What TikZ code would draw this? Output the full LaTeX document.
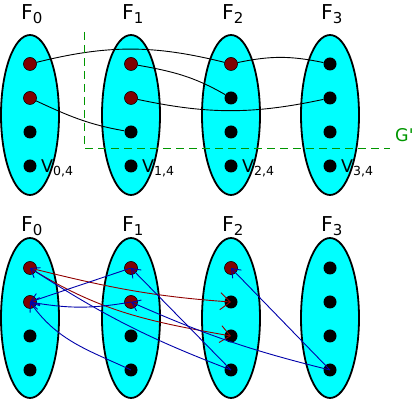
\documentclass[tikz,border=0pt]{standalone}
\usepackage{fontspec}
\setmainfont{DejaVu Sans}
\usetikzlibrary{shapes.geometric,arrows.meta}
\definecolor{setcyan}{RGB}{0,255,255}
\definecolor{dotred}{RGB}{128,0,0}
\definecolor{arcred}{RGB}{145,0,0}
\definecolor{arcblue}{RGB}{0,0,170}
\definecolor{cutgreen}{RGB}{0,150,0}
\newcommand{\fsub}[1]{\raisebox{-4pt}{\fontsize{15}{15}\selectfont #1}}
\newcommand{\vsub}[1]{\raisebox{-3pt}{\fontsize{12.5}{12}\selectfont #1}}
\tikzset{
  fset/.style={ellipse,draw,line width=1.8pt,fill=setcyan,minimum width=58pt,minimum height=160pt,inner sep=0pt},
  vdot/.style={circle,fill=black,minimum size=13pt,inner sep=0pt},
  rdot/.style={circle,draw=black,fill=dotred,line width=0.5pt,minimum size=13pt,inner sep=0pt},
  flab/.style={anchor=base west,inner sep=0pt,font=\fontsize{20.5}{22}\selectfont},
  vlab/.style={anchor=base west,inner sep=0pt,font=\fontsize{17.5}{18}\selectfont},
  link/.style={line width=0.9pt},
  rarc/.style={draw=arcred,line width=0.9pt,-{Straight Barb[length=10pt,width=17pt]}},
  barc/.style={draw=arcblue,line width=0.9pt,-{Straight Barb[length=8pt,width=12pt]}},
  cut/.style={draw=cutgreen,line width=0.9pt,dash pattern=on 8pt off 5pt}
}
\begin{document}
\begin{tikzpicture}[x=1pt,y=1pt]
  \useasboundingbox (0,0) rectangle (415,401);
  % the sets F_i, upper and lower copy
  \foreach \i/\x in {0/30,1/131,2/231,3/330} {
    \node[fset] (T\i) at (\x,286) {};
    \node[fset] (B\i) at (\x,83) {};
    \node[flab] (tf\i) at (\x-9,381) {F\fsub{\i}};
    \node[flab] (bf\i) at (\x-9,169) {F\fsub{\i}};
    \node[vlab] (v\i) at (\x+11,228) {V\vsub{\i,4}};
    \foreach \r in {1,...,4} {
      \node[vdot] (t\i\r) at (\x,371-34*\r) {};
      \node[vdot] (b\i\r) at (\x,167-34*\r) {};
    }
  }
  \foreach \n in {t01,t02,t11,t12,t21,b01,b02,b11,b12,b21}
    \node[rdot] (r\n) at (\n) {};
  % upper edges
  \draw[link] (t01) to[bend left=14] (t21);
  \draw[link] (t21) to[bend left=12] (t31);
  \draw[link] (t11) to[out=-10,in=150] (t22);
  \draw[link] (t02) to[out=-25,in=170] (t13);
  \draw[link] (t12) to[bend right=12] (t32);
  % the cut G'
  \coordinate (g0) at (84,369);
  \coordinate (g1) at (84,253);
  \coordinate (g2) at (390,253);
  \draw[cut] (g0) -- (g1) -- (g2);
  \node[anchor=base west,inner sep=0pt,text=cutgreen,font=\fontsize{17.5}{18}\selectfont] (gp) at (395,259) {G\textquotesingle};
  % lower arcs
  \draw[rarc] (b01.center) to[out=-14,in=176] (b22.center);
  \draw[rarc] (b01.center) to[out=-32,in=170] (b23.center);
  \draw[barc] (b14.center) to[out=155,in=-55] (b02.center);
  \draw[barc] (b12.center) to[bend left=10] (b02.center);
  \draw[barc] (b11.center) -- (b02.center);
  \draw[barc] (b24.center) to[bend left=6] (b01.center);
  \draw[barc] (b24.center) -- (b11.center);
  \draw[barc] (b34.center) to[bend left=5] (b12.center);
  \draw[barc] (b34.center) -- (b21.center);
\end{tikzpicture}
\end{document}
